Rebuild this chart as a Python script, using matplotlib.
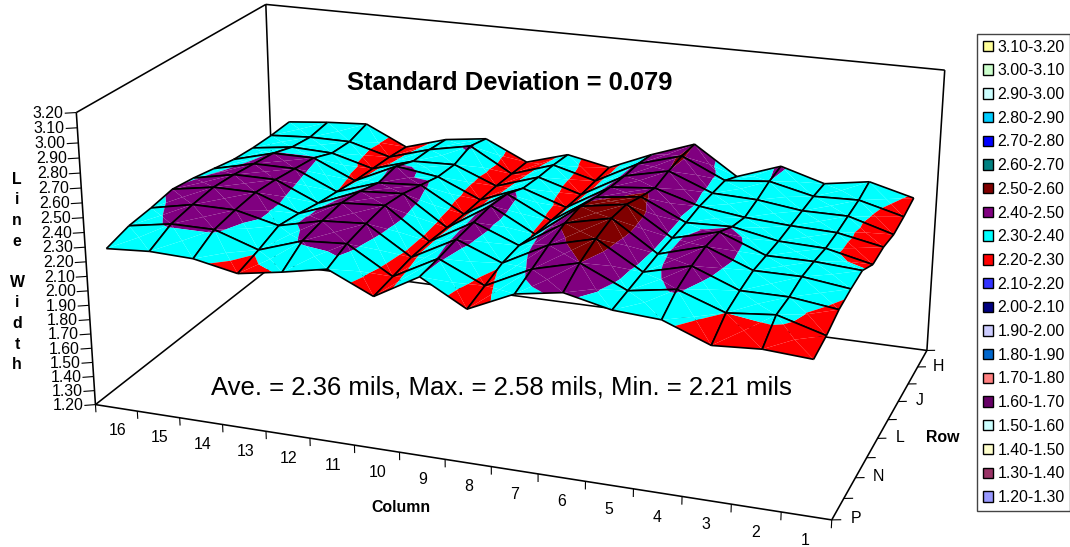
import numpy as np
import matplotlib
matplotlib.use("Agg")
import matplotlib.pyplot as plt
from matplotlib.patches import Patch
from mpl_toolkits.mplot3d import proj3d
from mpl_toolkits.mplot3d.art3d import Poly3DCollection, Line3DCollection

plt.rcParams['font.family'] = ['Liberation Sans', 'DejaVu Sans']
FS = 11.4
W, H = 1070, 547

# line width per column, rows P -> G (G is unlabelled, last tick on the axis)
c1 = [2.21, 2.24, 2.29, 2.31, 2.32, 2.25, 2.26, 2.24, 2.26, 2.29]
c2 = [2.23, 2.33, 2.33, 2.35, 2.34, 2.32, 2.32, 2.33, 2.34, 2.37]
c3 = [2.21, 2.30, 2.33, 2.35, 2.34, 2.33, 2.33, 2.33, 2.33, 2.32]
c4 = [2.33, 2.41, 2.45, 2.47, 2.46, 2.39, 2.35, 2.37, 2.40, 2.41]
c5 = [2.35, 2.36, 2.37, 2.38, 2.38, 2.38, 2.39, 2.38, 2.37, 2.30]
c6 = [2.42, 2.50, 2.55, 2.58, 2.57, 2.52, 2.48, 2.50, 2.51, 2.50]
c7 = [2.37, 2.42, 2.47, 2.51, 2.52, 2.48, 2.45, 2.43, 2.42, 2.39]
c8 = [2.23, 2.27, 2.31, 2.32, 2.29, 2.28, 2.27, 2.26, 2.26, 2.26]
c9 = [2.40, 2.41, 2.43, 2.44, 2.45, 2.43, 2.37, 2.35, 2.34, 2.32]
c10 = [2.23, 2.25, 2.27, 2.27, 2.26, 2.25, 2.25, 2.25, 2.24, 2.23]
c11 = [2.37, 2.43, 2.46, 2.48, 2.46, 2.42, 2.38, 2.37, 2.41, 2.37]
c12 = [2.31, 2.41, 2.44, 2.46, 2.44, 2.40, 2.42, 2.36, 2.35, 2.33]
c13 = [2.26, 2.31, 2.37, 2.35, 2.32, 2.30, 2.28, 2.27, 2.26, 2.24]
c14 = [2.32, 2.41, 2.44, 2.46, 2.45, 2.43, 2.41, 2.35, 2.34, 2.38]
c15 = [2.33, 2.41, 2.44, 2.46, 2.45, 2.43, 2.41, 2.36, 2.34, 2.36]
c16 = [2.31, 2.36, 2.38, 2.41, 2.39, 2.36, 2.33, 2.32, 2.32, 2.33]
columns = [c1, c2, c3, c4, c5, c6, c7, c8, c9, c10, c11, c12, c13, c14, c15, c16]

row_labels = ['P', '', 'N', '', 'L', '', 'J', '', 'H', '']
band_lows = [1.2, 1.3, 1.4, 1.5, 1.6, 1.7, 1.8, 1.9, 2.0, 2.1, 2.2,
             2.3, 2.4, 2.5, 2.6, 2.7, 2.8, 2.9, 3.0, 3.1]
band_colors = ['#9999FF', '#993366', '#FFFFCC', '#CCFFFF', '#660066', '#FF8080',
               '#0066CC', '#CCCCFF', '#000080', '#3333FF', '#FF0000', '#00FFFF',
               '#800080', '#800000', '#008080', '#0000FF', '#00CCFF', '#CCFFFF',
               '#CCFFCC', '#FFFF99']
z_ticks = [1.2 + 0.1 * i for i in range(21)]

Z = np.array(columns)
n_col, n_row = Z.shape
X0, X1, Y0, Y1, Z0, Z1 = 0.5, 16.5, 0, 9, 1.2, 3.2

# where the box sits in the picture, used to fit the camera
box_3d = [(X1, Y0, Z0), (X0, Y0, Z0), (X0, Y1, Z0), (X1, Y1, Z0),
          (X1, Y0, Z1), (X1, Y1, Z1), (X0, Y1, Z1),
          (8.5, Y0, Z0), (3.5, Y0, Z0), (X0, 4, Z0)]
box_px = [(95, 405), (832, 519), (927, 351), (276, 263),
          (77, 112), (265, 5), (945, 70),
          (445, 460), (682, 497), (877, 438)]


def fit_camera(pts3d, pts2d):
    A, b = [], []
    for (x, y, z), (u, v) in zip(pts3d, pts2d):
        v = H - v
        A.append([x, y, z, 1, 0, 0, 0, 0, -u*x, -u*y, -u*z])
        A.append([0, 0, 0, 0, x, y, z, 1, -v*x, -v*y, -v*z])
        b += [u, v]
    p = np.linalg.lstsq(np.array(A, float), np.array(b, float), rcond=None)[0]
    return np.array([p[:4], p[4:8], [0, 0, 0, -1], [p[8], p[9], p[10], 1.0]])


def clip(poly, lo, hi):
    for sign, lim in ((1, lo), (-1, hi)):
        out = []
        for i in range(len(poly)):
            a, b = poly[i], poly[(i + 1) % len(poly)]
            da, db = sign * (a[2] - lim), sign * (b[2] - lim)
            if da >= 0:
                out.append(a)
            if da * db < 0:
                t = da / (da - db)
                out.append(tuple(a[k] + t * (b[k] - a[k]) for k in range(3)))
        poly = out
        if not poly:
            return []
    return poly


M = fit_camera(box_3d, box_px)

fig = plt.figure(figsize=(W / 100, H / 100), dpi=100)
ax = fig.add_axes([0, 0, 1, 1], projection='3d')
ax.set_xticks([])
ax.set_yticks([])
ax.set_zticks([])
ax.set_axis_off()
ax.computed_zorder = False
ax.get_proj = lambda: M
ax.apply_aspect = lambda position=None: None
ax.viewLim.intervalx = (0, W)
ax.viewLim.intervaly = (0, H)


def label3d(x, y, z, s, **kw):
    u, v, _ = proj3d.proj_transform(x, y, z, M)
    ax.text2D(float(u), float(v), s, transform=ax.transData, va='center', fontsize=FS, **kw)


# box
box_lines = [((X1, Y0, Z0), (X0, Y0, Z0)), ((X0, Y0, Z0), (X0, Y1, Z0)),
             ((X0, Y1, Z0), (X1, Y1, Z0)), ((X1, Y1, Z0), (X1, Y0, Z0)),
             ((X1, Y0, Z0), (X1, Y0, Z1)), ((X1, Y1, Z0), (X1, Y1, Z1)),
             ((X0, Y1, Z0), (X0, Y1, Z1)), ((X1, Y0, Z1), (X1, Y1, Z1)),
             ((X1, Y1, Z1), (X0, Y1, Z1))]
ax.add_collection3d(Line3DCollection(box_lines, colors='black', linewidths=1.15, zorder=1))

# ticks and tick labels
ticks = []
for z in z_ticks:
    ticks.append([(X1, Y0, z), (X1 + 0.2, Y0 - 0.12, z)])
    label3d(X1 + 0.22, Y0 - 0.13, z, f'{z:.2f}', ha='right')
for i in range(17):
    ticks.append([(X0 + i, Y0, Z0), (X0 + i, Y0, Z0 - 0.055)])
for c in range(1, 17):
    label3d(c, Y0, Z0 - 0.165, str(c), ha='center')
for r, lab in enumerate(row_labels):
    ticks.append([(X0, r, Z0), (X0 - 0.17, r + 0.07, Z0)])
    if lab:
        label3d(X0 - 0.43, r + 0.2, Z0, lab, ha='center')
ax.add_collection3d(Line3DCollection(ticks, colors='black', linewidths=0.8, zorder=1))

# surface, cells painted from the far side to the camera
cells = []
for i in range(n_col - 1):
    for j in range(n_row - 1):
        xc, yc = i + 1.5, j + 0.5
        depth = M[3] @ np.array([xc, yc, Z[i:i+2, j:j+2].mean(), 1])
        cells.append((depth, i, j))
cells.sort(key=lambda t: -t[0])

zo = 2
for depth, i, j in cells:
    corners = [(i + 1, j, Z[i, j]), (i + 2, j, Z[i + 1, j]),
               (i + 2, j + 1, Z[i + 1, j + 1]), (i + 1, j + 1, Z[i, j + 1])]
    mid = (i + 1.5, j + 0.5, Z[i:i+2, j:j+2].mean())
    polys, cols = [], []
    for k in range(4):
        tri = [corners[k], corners[(k + 1) % 4], mid]
        zs = [p[2] for p in tri]
        for low, col in zip(band_lows, band_colors):
            if max(zs) < low or min(zs) > low + 0.1:
                continue
            piece = clip(tri, low, low + 0.1)
            if len(piece) >= 3:
                polys.append(piece)
                cols.append(col)
    ax.add_collection3d(Poly3DCollection(polys, facecolors=cols, edgecolors='none',
                                         linewidths=0, zorder=zo))
    ax.add_collection3d(Line3DCollection(
        [[corners[k], corners[(k + 1) % 4]] for k in range(4)],
        colors='black', linewidths=1.2, zorder=zo + 1))
    zo += 2


def fx(x):
    return x / W


def fy(y):
    return 1 - y / H


fig.text(fx(510), fy(83), 'Standard Deviation = 0.079', fontsize=18.4, fontweight='bold',
         ha='center', va='center')
fig.text(fx(501), fy(387), 'Ave. = 2.36 mils, Max. = 2.58 mils, Min. = 2.21 mils',
         fontsize=18.5, ha='center', va='center')
fig.text(fx(401), fy(507), 'Column', fontsize=FS, fontweight='bold', ha='center', va='center')
fig.text(fx(943), fy(438), 'Row', fontsize=FS, fontweight='bold', ha='center', va='center')
fig.text(fx(17), fy(272), 'L\ni\nn\ne\n\nW\ni\nd\nt\nh', fontsize=FS, fontweight='bold',
         ha='center', va='center', linespacing=1.47)

handles = [Patch(facecolor=c, edgecolor='black', lw=1.0,
                 label=f'{lo:.2f}-{lo + 0.1:.2f}')
           for lo, c in zip(band_lows[::-1], band_colors[::-1])]
leg = fig.legend(handles=handles, loc='upper left', bbox_to_anchor=(fx(977), fy(34)),
                 fontsize=FS, fancybox=False, edgecolor='#444444', framealpha=1,
                 handlelength=0.63, handleheight=0.63, handletextpad=0.3,
                 labelspacing=0.55, borderpad=0.35, borderaxespad=0)
leg.get_frame().set_linewidth(1.0)

fig.savefig('out.png', dpi=100)
